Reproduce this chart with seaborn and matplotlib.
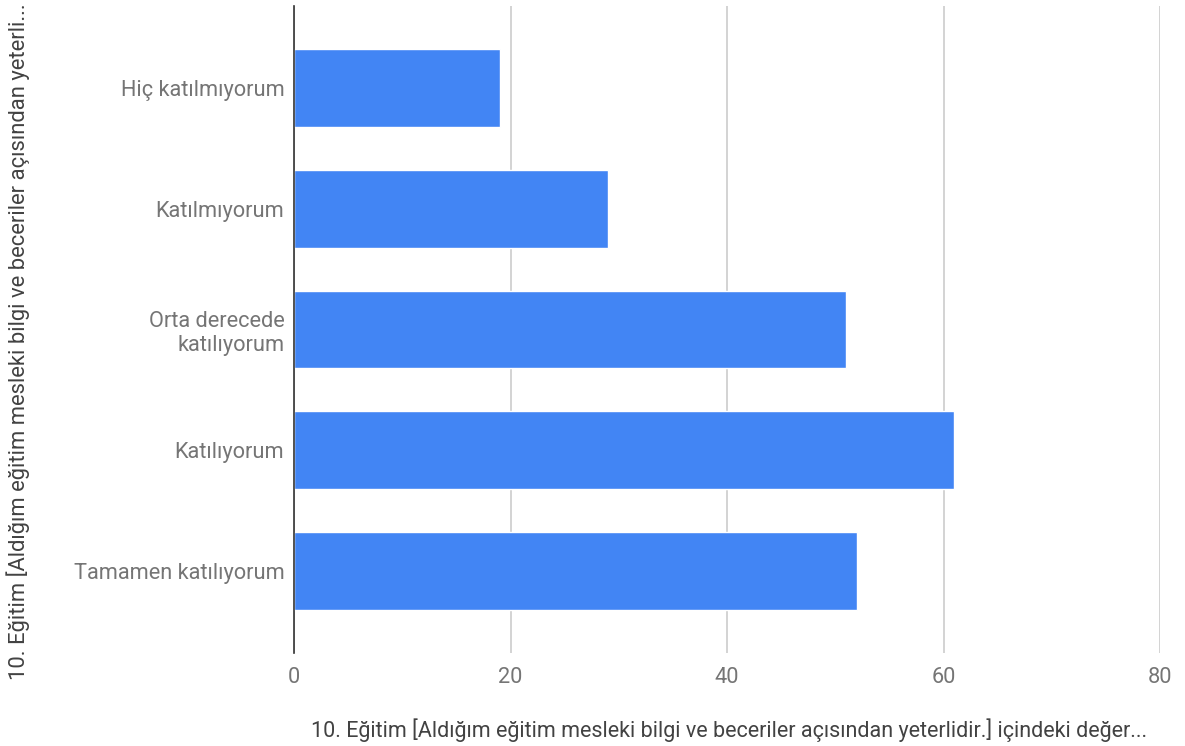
import seaborn as sns
import pandas as pd
from matplotlib import pyplot as plt

# answer categories and counts
categories = ['Hiç katılmıyorum', 'Katılmıyorum', 'Orta derecede\nkatılıyorum',
              'Katılıyorum', 'Tamamen katılıyorum']
counts = [19, 29, 51, 61, 52]
x_ticks = [0, 20, 40, 60, 80]

x_title = '10. Eğitim [Aldığım eğitim mesleki bilgi ve beceriler açısından yeterlidir.] içindeki değer...'
y_title = '10. Eğitim [Aldığım eğitim mesleki bilgi ve beceriler açısından yeterli...'

data = pd.DataFrame({'kategori': categories, 'sayi': counts})

sns.set_style('white')
plt.rcParams['font.family'] = ['Roboto', 'DejaVu Sans']
text_grey = '#757575'

fig = plt.figure(figsize=(11.85, 7.46), dpi=100)
ax = fig.add_axes([294 / 1185, 93 / 746, 866 / 1185, 647 / 746])

sns.barplot(data=data, x='sayi', y='kategori', orient='h', color='#4285F4',
            saturation=1, width=0.645, ax=ax)

ax.set_xlim(0, 80)
ax.set_ylim(4.68, -0.68)
ax.set_xticks(x_ticks)
ax.set_xticklabels([str(t) for t in x_ticks])
ax.xaxis.grid(True, color='#cccccc', linewidth=1.2)
ax.set_axisbelow(True)
for side in ['top', 'right', 'bottom']:
    ax.spines[side].set_visible(False)
ax.spines['left'].set_color('#333333')
ax.spines['left'].set_linewidth(1.2)

ax.tick_params(axis='both', length=0, labelsize=15.7, labelcolor=text_grey)
ax.tick_params(axis='x', pad=10)
ax.tick_params(axis='y', pad=7)
for lbl in ax.get_yticklabels():
    lbl.set_multialignment('right')

ax.set_xlabel(x_title, fontsize=15.5, color='#424242')
ax.set_ylabel(y_title, fontsize=15.8, color='#424242')
ax.xaxis.label.set_va('center')
ax.yaxis.label.set_va('center')
ax.yaxis.label.set_ha('center')
ax.xaxis.set_label_coords(0.502, -0.119)
ax.yaxis.set_label_coords(-0.319, 0.481)

fig.savefig('out.png', dpi=100)
